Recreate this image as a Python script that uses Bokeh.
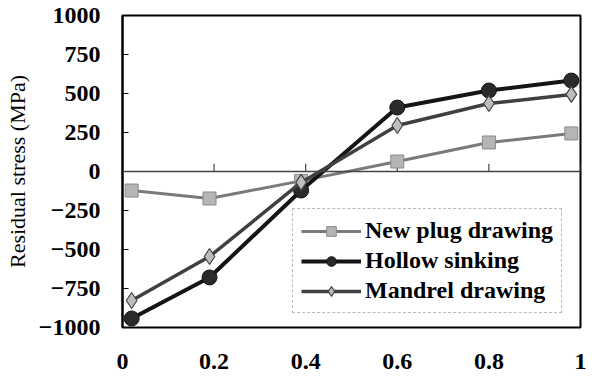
from bokeh.plotting import figure
from bokeh.models import Range1d, Legend, LegendItem, FixedTicker, Span
from bokeh.embed import file_html
from bokeh.resources import INLINE

x_vals = [0.02, 0.19, 0.39, 0.60, 0.80, 0.98]
new_plug = [-122, -173, -60, 64, 186, 244]
hollow = [-942, -679, -122, 410, 519, 583]
mandrel = [-827, -545, -70, 295, 436, 494]
x_ticks = [0, 0.2, 0.4, 0.6, 0.8, 1]
y_ticks = [-1000, -750, -500, -250, 0, 250, 500, 750, 1000]
series_names = ["New plug drawing", "Hollow sinking", "Mandrel drawing"]

FONT = "Liberation Serif"

p = figure(width=595, height=380, output_backend="svg", toolbar_location=None,
           x_range=Range1d(0, 1), y_range=Range1d(-1000, 1000),
           min_border_left=122, min_border_right=15, min_border_top=15, min_border_bottom=53)
p.background_fill_color = "white"
p.border_fill_color = "white"
p.outline_line_color = "black"
p.outline_line_width = 2
p.xgrid.visible = False
p.ygrid.visible = False

# y axis
ya = p.yaxis[0]
ya.ticker = FixedTicker(ticks=y_ticks)
ya.axis_line_color = "black"
ya.axis_line_width = 2
ya.major_tick_in = 6
ya.major_tick_out = 0
ya.major_tick_line_color = "black"
ya.minor_tick_line_color = None
ya.major_label_text_font = FONT
ya.major_label_text_font_style = "bold"
ya.major_label_text_font_size = "24px"
ya.major_label_text_color = "black"
ya.major_label_standoff = 22
ya.axis_label = "Residual stress (MPa)"
ya.axis_label_text_font = FONT
ya.axis_label_text_font_style = "normal"
ya.axis_label_text_font_size = "22px"
ya.axis_label_text_color = "black"
ya.axis_label_standoff = 6

# x axis: labels only at bottom
xa = p.xaxis[0]
xa.ticker = FixedTicker(ticks=x_ticks)
xa.axis_line_color = None
xa.major_tick_line_color = None
xa.minor_tick_line_color = None
xa.major_label_text_font = FONT
xa.major_label_text_font_style = "bold"
xa.major_label_text_font_size = "24px"
xa.major_label_text_color = "black"
xa.major_label_standoff = 20

# zero line with upward ticks
p.add_layout(Span(location=0, dimension="width", line_color="#444444", line_width=1.5))
p.segment(x0=x_ticks, y0=[0] * len(x_ticks), x1=x_ticks, y1=[50] * len(x_ticks),
          line_color="#444444", line_width=1.2)

# series
l1 = p.line(x_vals, new_plug, line_color="#7a7a7a", line_width=3)
m1 = p.scatter(x_vals, new_plug, marker="square", size=13, fill_color="#b5b5b5",
               line_color="#8a8a8a", line_width=1)
l2 = p.line(x_vals, hollow, line_color="#151515", line_width=4)
m2 = p.scatter(x_vals, hollow, marker="circle", size=15, fill_color="#2a2a2a",
               line_color="#111111", line_width=1)
l3 = p.line(x_vals, mandrel, line_color="#404040", line_width=3.5)
m3 = p.scatter(x_vals, mandrel, marker="diamond", size=16, fill_color="#bdbdbd",
               line_color="#444444", line_width=1.2)

legend = Legend(items=[
    LegendItem(label=series_names[0], renderers=[l1, m1]),
    LegendItem(label=series_names[1], renderers=[l2, m2]),
    LegendItem(label=series_names[2], renderers=[l3, m3]),
], location=(170, 14))
legend.label_text_font = FONT
legend.label_text_font_style = "bold"
legend.label_text_font_size = "24px"
legend.label_text_color = "black"
legend.glyph_width = 60
legend.glyph_height = 24
legend.label_standoff = 4
legend.spacing = 3
legend.padding = 8
legend.margin = 0
legend.border_line_color = "#777777"
legend.border_line_width = 1
legend.border_line_dash = "2 2"
legend.background_fill_alpha = 1
p.add_layout(legend, "center")

html = file_html(p, INLINE)
open("out.html", "w").write(html)
